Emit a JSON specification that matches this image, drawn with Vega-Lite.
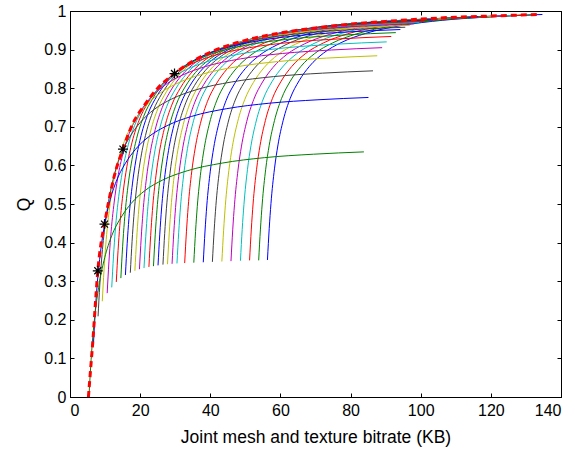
{
"$schema": "https://vega.github.io/schema/vega-lite/v6.json",
"width": 491, "height": 386,
"autosize": {"type": "none"},
"padding": {"left": 70, "top": 11, "right": 14, "bottom": 56},
"config": {
 "view": {"stroke": "black", "strokeWidth": 1},
 "font": "Liberation Sans",
 "axis": {"domainColor": "black", "tickColor": "black", "labelColor": "black", "titleColor": "black", "grid": false, "labelFontSize": 16, "titleFontSize": 17.5, "titleFontWeight": "normal", "tickSize": -4}
},
"datasets": {
"curves": [
{"k":0,"x":56.3,"q":0.355},{"k":0,"x":56.8,"q":0.436},{"k":0,"x":57.3,"q":0.501},{"k":0,"x":58.3,"q":0.591},{"k":0,"x":59.3,"q":0.653},{"k":0,"x":60.8,"q":0.717},{"k":0,"x":62.8,"q":0.774},{"k":0,"x":65.3,"q":0.819},{"k":0,"x":68.3,"q":0.857},{"k":0,"x":72.3,"q":0.891},{"k":0,"x":77.3,"q":0.918},{"k":0,"x":84.3,"q":0.942},{"k":0,"x":94.3,"q":0.962},{"k":0,"x":106.3,"q":0.976},{"k":0,"x":120.3,"q":0.985},{"k":0,"x":134.7,"q":0.991},
{"k":1,"x":53.8,"q":0.354},{"k":1,"x":54.3,"q":0.435},{"k":1,"x":54.8,"q":0.5},{"k":1,"x":55.8,"q":0.59},{"k":1,"x":56.8,"q":0.652},{"k":1,"x":58.3,"q":0.716},{"k":1,"x":60.3,"q":0.773},{"k":1,"x":62.8,"q":0.818},{"k":1,"x":65.8,"q":0.856},{"k":1,"x":69.8,"q":0.89},{"k":1,"x":74.8,"q":0.917},{"k":1,"x":81.8,"q":0.941},{"k":1,"x":91.8,"q":0.961},{"k":1,"x":103.8,"q":0.975},{"k":1,"x":117.8,"q":0.984},{"k":1,"x":132.2,"q":0.99},
{"k":2,"x":51.2,"q":0.354},{"k":2,"x":51.7,"q":0.435},{"k":2,"x":52.2,"q":0.5},{"k":2,"x":53.2,"q":0.59},{"k":2,"x":54.2,"q":0.652},{"k":2,"x":55.7,"q":0.716},{"k":2,"x":57.7,"q":0.773},{"k":2,"x":60.2,"q":0.818},{"k":2,"x":63.2,"q":0.856},{"k":2,"x":67.2,"q":0.89},{"k":2,"x":72.2,"q":0.917},{"k":2,"x":79.2,"q":0.941},{"k":2,"x":89.2,"q":0.961},{"k":2,"x":101.2,"q":0.975},{"k":2,"x":115.2,"q":0.984},{"k":2,"x":129.6,"q":0.99},
{"k":3,"x":48.6,"q":0.353},{"k":3,"x":49.1,"q":0.434},{"k":3,"x":49.6,"q":0.499},{"k":3,"x":50.6,"q":0.589},{"k":3,"x":51.6,"q":0.651},{"k":3,"x":53.1,"q":0.715},{"k":3,"x":55.1,"q":0.772},{"k":3,"x":57.6,"q":0.817},{"k":3,"x":60.6,"q":0.855},{"k":3,"x":64.6,"q":0.889},{"k":3,"x":69.6,"q":0.916},{"k":3,"x":76.6,"q":0.94},{"k":3,"x":86.6,"q":0.96},{"k":3,"x":98.6,"q":0.974},{"k":3,"x":112.6,"q":0.983},{"k":3,"x":127,"q":0.989},
{"k":4,"x":45.9,"q":0.352},{"k":4,"x":46.4,"q":0.433},{"k":4,"x":46.9,"q":0.498},{"k":4,"x":47.9,"q":0.588},{"k":4,"x":48.9,"q":0.65},{"k":4,"x":50.4,"q":0.714},{"k":4,"x":52.4,"q":0.771},{"k":4,"x":54.9,"q":0.816},{"k":4,"x":57.9,"q":0.854},{"k":4,"x":61.9,"q":0.888},{"k":4,"x":66.9,"q":0.915},{"k":4,"x":73.9,"q":0.939},{"k":4,"x":83.9,"q":0.959},{"k":4,"x":95.9,"q":0.973},{"k":4,"x":109.9,"q":0.982},{"k":4,"x":124.3,"q":0.988},
{"k":5,"x":43.3,"q":0.351},{"k":5,"x":43.8,"q":0.432},{"k":5,"x":44.3,"q":0.497},{"k":5,"x":45.3,"q":0.587},{"k":5,"x":46.3,"q":0.649},{"k":5,"x":47.8,"q":0.713},{"k":5,"x":49.8,"q":0.77},{"k":5,"x":52.3,"q":0.815},{"k":5,"x":55.3,"q":0.853},{"k":5,"x":59.3,"q":0.887},{"k":5,"x":64.3,"q":0.914},{"k":5,"x":71.3,"q":0.938},{"k":5,"x":81.3,"q":0.958},{"k":5,"x":93.3,"q":0.972},{"k":5,"x":107.3,"q":0.981},{"k":5,"x":121.7,"q":0.987},
{"k":6,"x":40.6,"q":0.35},{"k":6,"x":41.1,"q":0.431},{"k":6,"x":41.6,"q":0.496},{"k":6,"x":42.6,"q":0.586},{"k":6,"x":43.6,"q":0.648},{"k":6,"x":45.1,"q":0.712},{"k":6,"x":47.1,"q":0.769},{"k":6,"x":49.6,"q":0.814},{"k":6,"x":52.6,"q":0.852},{"k":6,"x":56.6,"q":0.886},{"k":6,"x":61.6,"q":0.913},{"k":6,"x":68.6,"q":0.937},{"k":6,"x":78.6,"q":0.957},{"k":6,"x":90.6,"q":0.971},{"k":6,"x":104.6,"q":0.98},{"k":6,"x":119,"q":0.986},
{"k":7,"x":38,"q":0.349},{"k":7,"x":38.5,"q":0.43},{"k":7,"x":39,"q":0.495},{"k":7,"x":40,"q":0.585},{"k":7,"x":41,"q":0.647},{"k":7,"x":42.5,"q":0.711},{"k":7,"x":44.5,"q":0.768},{"k":7,"x":47,"q":0.813},{"k":7,"x":50,"q":0.851},{"k":7,"x":54,"q":0.885},{"k":7,"x":59,"q":0.912},{"k":7,"x":66,"q":0.936},{"k":7,"x":76,"q":0.956},{"k":7,"x":88,"q":0.97},{"k":7,"x":102,"q":0.979},{"k":7,"x":116.4,"q":0.985},
{"k":8,"x":35.3,"q":0.348},{"k":8,"x":35.8,"q":0.429},{"k":8,"x":36.3,"q":0.494},{"k":8,"x":37.3,"q":0.584},{"k":8,"x":38.3,"q":0.646},{"k":8,"x":39.8,"q":0.71},{"k":8,"x":41.8,"q":0.767},{"k":8,"x":44.3,"q":0.812},{"k":8,"x":47.3,"q":0.85},{"k":8,"x":51.3,"q":0.884},{"k":8,"x":56.3,"q":0.911},{"k":8,"x":63.3,"q":0.935},{"k":8,"x":73.3,"q":0.955},{"k":8,"x":85.3,"q":0.969},{"k":8,"x":99.3,"q":0.978},{"k":8,"x":113.7,"q":0.984},
{"k":9,"x":32.7,"q":0.347},{"k":9,"x":33.2,"q":0.428},{"k":9,"x":33.7,"q":0.493},{"k":9,"x":34.7,"q":0.583},{"k":9,"x":35.7,"q":0.645},{"k":9,"x":37.2,"q":0.709},{"k":9,"x":39.2,"q":0.766},{"k":9,"x":41.7,"q":0.811},{"k":9,"x":44.7,"q":0.849},{"k":9,"x":48.7,"q":0.883},{"k":9,"x":53.7,"q":0.91},{"k":9,"x":60.7,"q":0.934},{"k":9,"x":70.7,"q":0.954},{"k":9,"x":82.7,"q":0.968},{"k":9,"x":96.7,"q":0.977},{"k":9,"x":111.1,"q":0.983},
{"k":10,"x":30.5,"q":0.346},{"k":10,"x":31,"q":0.427},{"k":10,"x":31.5,"q":0.492},{"k":10,"x":32.5,"q":0.582},{"k":10,"x":33.5,"q":0.644},{"k":10,"x":35,"q":0.708},{"k":10,"x":37,"q":0.765},{"k":10,"x":39.5,"q":0.81},{"k":10,"x":42.5,"q":0.848},{"k":10,"x":46.5,"q":0.882},{"k":10,"x":51.5,"q":0.909},{"k":10,"x":58.5,"q":0.933},{"k":10,"x":68.5,"q":0.953},{"k":10,"x":80.5,"q":0.967},{"k":10,"x":94.5,"q":0.976},{"k":10,"x":108.9,"q":0.982},
{"k":11,"x":29.1,"q":0.345},{"k":11,"x":29.6,"q":0.426},{"k":11,"x":30.1,"q":0.491},{"k":11,"x":31.1,"q":0.581},{"k":11,"x":32.1,"q":0.643},{"k":11,"x":33.6,"q":0.707},{"k":11,"x":35.6,"q":0.764},{"k":11,"x":38.1,"q":0.809},{"k":11,"x":41.1,"q":0.847},{"k":11,"x":45.1,"q":0.881},{"k":11,"x":50.1,"q":0.908},{"k":11,"x":57.1,"q":0.932},{"k":11,"x":67.1,"q":0.952},{"k":11,"x":79.1,"q":0.966},{"k":11,"x":93.1,"q":0.975},{"k":11,"x":107.5,"q":0.981},
{"k":12,"x":27.8,"q":0.344},{"k":12,"x":28.3,"q":0.425},{"k":12,"x":28.8,"q":0.49},{"k":12,"x":29.8,"q":0.58},{"k":12,"x":30.8,"q":0.642},{"k":12,"x":32.3,"q":0.706},{"k":12,"x":34.3,"q":0.763},{"k":12,"x":36.8,"q":0.808},{"k":12,"x":39.8,"q":0.846},{"k":12,"x":43.8,"q":0.88},{"k":12,"x":48.8,"q":0.907},{"k":12,"x":55.8,"q":0.931},{"k":12,"x":65.8,"q":0.951},{"k":12,"x":77.8,"q":0.965},{"k":12,"x":91.8,"q":0.974},{"k":12,"x":106.2,"q":0.98},
{"k":13,"x":26.5,"q":0.343},{"k":13,"x":27,"q":0.424},{"k":13,"x":27.5,"q":0.489},{"k":13,"x":28.5,"q":0.579},{"k":13,"x":29.5,"q":0.641},{"k":13,"x":31,"q":0.705},{"k":13,"x":33,"q":0.762},{"k":13,"x":35.5,"q":0.807},{"k":13,"x":38.5,"q":0.845},{"k":13,"x":42.5,"q":0.879},{"k":13,"x":47.5,"q":0.906},{"k":13,"x":54.5,"q":0.93},{"k":13,"x":64.5,"q":0.95},{"k":13,"x":76.5,"q":0.964},{"k":13,"x":90.5,"q":0.973},{"k":13,"x":104.9,"q":0.979},
{"k":14,"x":25.1,"q":0.341},{"k":14,"x":25.6,"q":0.422},{"k":14,"x":26.1,"q":0.487},{"k":14,"x":27.1,"q":0.577},{"k":14,"x":28.1,"q":0.639},{"k":14,"x":29.6,"q":0.703},{"k":14,"x":31.6,"q":0.76},{"k":14,"x":34.1,"q":0.805},{"k":14,"x":37.1,"q":0.843},{"k":14,"x":41.1,"q":0.877},{"k":14,"x":46.1,"q":0.904},{"k":14,"x":53.1,"q":0.928},{"k":14,"x":63.1,"q":0.948},{"k":14,"x":75.1,"q":0.962},{"k":14,"x":89.1,"q":0.971},{"k":14,"x":103.5,"q":0.977},
{"k":15,"x":23.8,"q":0.339},{"k":15,"x":24.3,"q":0.42},{"k":15,"x":24.8,"q":0.485},{"k":15,"x":25.8,"q":0.575},{"k":15,"x":26.8,"q":0.637},{"k":15,"x":28.3,"q":0.701},{"k":15,"x":30.3,"q":0.758},{"k":15,"x":32.8,"q":0.803},{"k":15,"x":35.8,"q":0.841},{"k":15,"x":39.8,"q":0.875},{"k":15,"x":44.8,"q":0.902},{"k":15,"x":51.8,"q":0.926},{"k":15,"x":61.8,"q":0.946},{"k":15,"x":73.8,"q":0.96},{"k":15,"x":87.8,"q":0.969},{"k":15,"x":102.2,"q":0.975},
{"k":16,"x":22.5,"q":0.337},{"k":16,"x":23,"q":0.418},{"k":16,"x":23.5,"q":0.483},{"k":16,"x":24.5,"q":0.573},{"k":16,"x":25.5,"q":0.635},{"k":16,"x":27,"q":0.699},{"k":16,"x":29,"q":0.756},{"k":16,"x":31.5,"q":0.801},{"k":16,"x":34.5,"q":0.839},{"k":16,"x":38.5,"q":0.873},{"k":16,"x":43.5,"q":0.9},{"k":16,"x":50.5,"q":0.924},{"k":16,"x":60.5,"q":0.944},{"k":16,"x":72.5,"q":0.958},{"k":16,"x":86.5,"q":0.967},{"k":16,"x":100.9,"q":0.973},
{"k":17,"x":21.1,"q":0.334},{"k":17,"x":21.6,"q":0.415},{"k":17,"x":22.1,"q":0.48},{"k":17,"x":23.1,"q":0.57},{"k":17,"x":24.1,"q":0.632},{"k":17,"x":25.6,"q":0.696},{"k":17,"x":27.6,"q":0.753},{"k":17,"x":30.1,"q":0.798},{"k":17,"x":33.1,"q":0.836},{"k":17,"x":37.1,"q":0.87},{"k":17,"x":42.1,"q":0.897},{"k":17,"x":49.1,"q":0.921},{"k":17,"x":59.1,"q":0.941},{"k":17,"x":71.1,"q":0.955},{"k":17,"x":85.1,"q":0.964},{"k":17,"x":99.5,"q":0.97},
{"k":18,"x":19.8,"q":0.331},{"k":18,"x":20.3,"q":0.412},{"k":18,"x":20.8,"q":0.477},{"k":18,"x":21.8,"q":0.567},{"k":18,"x":22.8,"q":0.629},{"k":18,"x":24.3,"q":0.693},{"k":18,"x":26.3,"q":0.75},{"k":18,"x":28.8,"q":0.795},{"k":18,"x":31.8,"q":0.833},{"k":18,"x":35.8,"q":0.867},{"k":18,"x":40.8,"q":0.894},{"k":18,"x":47.8,"q":0.918},{"k":18,"x":57.8,"q":0.938},{"k":18,"x":69.8,"q":0.952},{"k":18,"x":83.8,"q":0.961},{"k":18,"x":98.2,"q":0.967},
{"k":19,"x":18.5,"q":0.327},{"k":19,"x":19,"q":0.408},{"k":19,"x":19.5,"q":0.473},{"k":19,"x":20.5,"q":0.563},{"k":19,"x":21.5,"q":0.625},{"k":19,"x":23,"q":0.689},{"k":19,"x":25,"q":0.746},{"k":19,"x":27.5,"q":0.791},{"k":19,"x":30.5,"q":0.829},{"k":19,"x":34.5,"q":0.863},{"k":19,"x":39.5,"q":0.89},{"k":19,"x":46.5,"q":0.914},{"k":19,"x":56.5,"q":0.934},{"k":19,"x":68.5,"q":0.948},{"k":19,"x":82.5,"q":0.957},{"k":19,"x":96.9,"q":0.963},
{"k":20,"x":17.2,"q":0.322},{"k":20,"x":17.7,"q":0.403},{"k":20,"x":18.2,"q":0.468},{"k":20,"x":19.2,"q":0.558},{"k":20,"x":20.2,"q":0.62},{"k":20,"x":21.7,"q":0.684},{"k":20,"x":23.7,"q":0.741},{"k":20,"x":26.2,"q":0.786},{"k":20,"x":29.2,"q":0.824},{"k":20,"x":33.2,"q":0.858},{"k":20,"x":38.2,"q":0.885},{"k":20,"x":45.2,"q":0.909},{"k":20,"x":55.2,"q":0.929},{"k":20,"x":67.2,"q":0.943},{"k":20,"x":81.2,"q":0.952},{"k":20,"x":95.6,"q":0.958},
{"k":21,"x":15.8,"q":0.316},{"k":21,"x":16.3,"q":0.397},{"k":21,"x":16.8,"q":0.462},{"k":21,"x":17.8,"q":0.552},{"k":21,"x":18.8,"q":0.614},{"k":21,"x":20.3,"q":0.678},{"k":21,"x":22.3,"q":0.735},{"k":21,"x":24.8,"q":0.78},{"k":21,"x":27.8,"q":0.818},{"k":21,"x":31.8,"q":0.852},{"k":21,"x":36.8,"q":0.879},{"k":21,"x":43.8,"q":0.903},{"k":21,"x":53.8,"q":0.923},{"k":21,"x":65.8,"q":0.937},{"k":21,"x":79.8,"q":0.946},{"k":21,"x":94.2,"q":0.952},
{"k":22,"x":14.5,"q":0.308},{"k":22,"x":15,"q":0.389},{"k":22,"x":15.5,"q":0.454},{"k":22,"x":16.5,"q":0.544},{"k":22,"x":17.5,"q":0.606},{"k":22,"x":19,"q":0.67},{"k":22,"x":21,"q":0.727},{"k":22,"x":23.5,"q":0.772},{"k":22,"x":26.5,"q":0.81},{"k":22,"x":30.5,"q":0.844},{"k":22,"x":35.5,"q":0.871},{"k":22,"x":42.5,"q":0.895},{"k":22,"x":52.5,"q":0.915},{"k":22,"x":64.5,"q":0.929},{"k":22,"x":78.5,"q":0.938},{"k":22,"x":92.9,"q":0.944},
{"k":23,"x":13.2,"q":0.298},{"k":23,"x":13.7,"q":0.379},{"k":23,"x":14.2,"q":0.444},{"k":23,"x":15.2,"q":0.534},{"k":23,"x":16.2,"q":0.596},{"k":23,"x":17.7,"q":0.66},{"k":23,"x":19.7,"q":0.717},{"k":23,"x":22.2,"q":0.762},{"k":23,"x":25.2,"q":0.8},{"k":23,"x":29.2,"q":0.834},{"k":23,"x":34.2,"q":0.861},{"k":23,"x":41.2,"q":0.885},{"k":23,"x":51.2,"q":0.905},{"k":23,"x":63.2,"q":0.919},{"k":23,"x":77.2,"q":0.928},{"k":23,"x":91.6,"q":0.934},
{"k":24,"x":11.9,"q":0.284},{"k":24,"x":12.4,"q":0.365},{"k":24,"x":12.9,"q":0.43},{"k":24,"x":13.9,"q":0.52},{"k":24,"x":14.9,"q":0.582},{"k":24,"x":16.4,"q":0.646},{"k":24,"x":18.4,"q":0.703},{"k":24,"x":20.9,"q":0.748},{"k":24,"x":23.9,"q":0.786},{"k":24,"x":27.9,"q":0.82},{"k":24,"x":32.9,"q":0.847},{"k":24,"x":39.9,"q":0.871},{"k":24,"x":49.9,"q":0.891},{"k":24,"x":61.9,"q":0.905},{"k":24,"x":75.9,"q":0.914},{"k":24,"x":90.3,"q":0.92},
{"k":25,"x":10.6,"q":0.269},{"k":25,"x":11.1,"q":0.35},{"k":25,"x":11.6,"q":0.415},{"k":25,"x":12.6,"q":0.505},{"k":25,"x":13.6,"q":0.567},{"k":25,"x":15.1,"q":0.631},{"k":25,"x":17.1,"q":0.688},{"k":25,"x":19.6,"q":0.733},{"k":25,"x":22.6,"q":0.771},{"k":25,"x":26.6,"q":0.805},{"k":25,"x":31.6,"q":0.832},{"k":25,"x":38.6,"q":0.856},{"k":25,"x":48.6,"q":0.876},{"k":25,"x":60.6,"q":0.89},{"k":25,"x":74.6,"q":0.899},{"k":25,"x":89,"q":0.905},
{"k":26,"x":9.2,"q":0.248},{"k":26,"x":9.7,"q":0.329},{"k":26,"x":10.2,"q":0.394},{"k":26,"x":11.2,"q":0.484},{"k":26,"x":12.2,"q":0.546},{"k":26,"x":13.7,"q":0.61},{"k":26,"x":15.7,"q":0.667},{"k":26,"x":18.2,"q":0.712},{"k":26,"x":21.2,"q":0.75},{"k":26,"x":25.2,"q":0.784},{"k":26,"x":30.2,"q":0.811},{"k":26,"x":37.2,"q":0.835},{"k":26,"x":47.2,"q":0.855},{"k":26,"x":59.2,"q":0.869},{"k":26,"x":73.2,"q":0.878},{"k":26,"x":87.6,"q":0.884},
{"k":27,"x":8,"q":0.209},{"k":27,"x":8.5,"q":0.29},{"k":27,"x":9,"q":0.355},{"k":27,"x":10,"q":0.445},{"k":27,"x":11,"q":0.507},{"k":27,"x":12.5,"q":0.571},{"k":27,"x":14.5,"q":0.628},{"k":27,"x":17,"q":0.673},{"k":27,"x":20,"q":0.711},{"k":27,"x":24,"q":0.745},{"k":27,"x":29,"q":0.772},{"k":27,"x":36,"q":0.796},{"k":27,"x":46,"q":0.816},{"k":27,"x":58,"q":0.83},{"k":27,"x":72,"q":0.839},{"k":27,"x":86.4,"q":0.845},
{"k":28,"x":6.7,"q":0.14},{"k":28,"x":7.2,"q":0.221},{"k":28,"x":7.7,"q":0.286},{"k":28,"x":8.7,"q":0.376},{"k":28,"x":9.7,"q":0.438},{"k":28,"x":11.2,"q":0.502},{"k":28,"x":13.2,"q":0.559},{"k":28,"x":15.7,"q":0.604},{"k":28,"x":18.7,"q":0.642},{"k":28,"x":22.7,"q":0.676},{"k":28,"x":27.7,"q":0.703},{"k":28,"x":34.7,"q":0.727},{"k":28,"x":44.7,"q":0.747},{"k":28,"x":56.7,"q":0.761},{"k":28,"x":70.7,"q":0.77},{"k":28,"x":85.1,"q":0.776},
{"k":29,"x":5.4,"q":0},{"k":29,"x":5.9,"q":0.08},{"k":29,"x":6.4,"q":0.145},{"k":29,"x":7.4,"q":0.235},{"k":29,"x":8.4,"q":0.297},{"k":29,"x":9.9,"q":0.361},{"k":29,"x":11.9,"q":0.418},{"k":29,"x":14.4,"q":0.463},{"k":29,"x":17.4,"q":0.501},{"k":29,"x":21.4,"q":0.535},{"k":29,"x":26.4,"q":0.562},{"k":29,"x":33.4,"q":0.586},{"k":29,"x":43.4,"q":0.606},{"k":29,"x":55.4,"q":0.62},{"k":29,"x":69.4,"q":0.629},{"k":29,"x":83.8,"q":0.635}
],
"env": [
{"x":5.25,"q":0},{"x":5.9,"q":0.075},{"x":6.6,"q":0.155},{"x":7.3,"q":0.25},{"x":7.93,"q":0.327},{"x":8.8,"q":0.395},{"x":9.84,"q":0.448},{"x":11,"q":0.505},{"x":12.5,"q":0.568},{"x":15.1,"q":0.642},{"x":18,"q":0.71},{"x":21,"q":0.753},{"x":25,"q":0.8},{"x":29.8,"q":0.838},{"x":35,"q":0.87},{"x":40,"q":0.893},{"x":50,"q":0.924},{"x":60,"q":0.943},{"x":70,"q":0.956},{"x":80,"q":0.966},{"x":90,"q":0.973},{"x":100,"q":0.979},{"x":110,"q":0.984},{"x":120,"q":0.987},{"x":133.5,"q":0.991}
],
"stars": [
{"x":7.93,"q":0.327},{"x":9.84,"q":0.448},{"x":15.1,"q":0.642},{"x":29.8,"q":0.838}
]
},
"layer": [
{
 "data": {"name": "curves"},
 "mark": {"type": "line", "strokeWidth": 1, "interpolate": "monotone"},
 "encoding": {
  "x": {"field": "x", "type": "quantitative", "scale": {"domain": [0, 140], "nice": false, "zero": false},
        "axis": {"orient": "bottom", "values": [0,20,40,60,80,100,120,140], "labelPadding": 9, "title": "Joint mesh and texture bitrate (KB)", "titleY": 40, "titleBaseline": "middle"}},
  "y": {"field": "q", "type": "quantitative", "scale": {"domain": [0, 1], "nice": false},
        "axis": {"orient": "left", "values": [0,0.1,0.2,0.3,0.4,0.5,0.6,0.7,0.8,0.9,1], "format": "~g", "labelPadding": 8, "title": "Q", "titleX": -46, "titleY": 193, "titleBaseline": "middle"}},
  "color": {"field": "k", "type": "nominal", "legend": null,
   "scale": {"domain": [0,1,2,3,4,5,6,7,8,9,10,11,12,13,14,15,16,17,18,19,20,21,22,23,24,25,26,27,28,29],
    "range": ["#0000FF","#008000","#FF0000","#00BFBF","#BF00BF","#BFBF00","#404040","#0000FF","#008000","#FF0000","#00BFBF","#BF00BF","#BFBF00","#404040","#0000FF","#008000","#FF0000","#00BFBF","#BF00BF","#BFBF00","#404040","#0000FF","#008000","#FF0000","#00BFBF","#BF00BF","#BFBF00","#404040","#0000FF","#008000"]}}
 }
},
{
 "data": {"name": "env"},
 "mark": {"type": "line", "color": "#FF0000", "strokeWidth": 3, "strokeDash": [6, 4], "interpolate": "monotone"},
 "encoding": {
  "x": {"field": "x", "type": "quantitative", "axis": {"orient": "top", "values": [0,20,40,60,80,100,120,140], "labels": false, "title": null}},
  "y": {"field": "q", "type": "quantitative", "axis": {"orient": "right", "values": [0,0.1,0.2,0.3,0.4,0.5,0.6,0.7,0.8,0.9,1], "labels": false, "title": null}}
 }
},
{
 "data": {"name": "stars"},
 "mark": {"type": "point", "shape": "M-1,0L1,0M0,-1L0,1M-0.7,-0.7L0.7,0.7M-0.7,0.7L0.7,-0.7", "size": 100, "stroke": "black", "strokeWidth": 1.2, "filled": false, "opacity": 1},
 "encoding": {
  "x": {"field": "x", "type": "quantitative", "axis": null},
  "y": {"field": "q", "type": "quantitative", "axis": null}
 }
},
{
 "mark": {"type": "text", "text": "λ = 0.6272", "fontSize": 17, "font": "Liberation Sans", "color": "black", "align": "center", "baseline": "middle"},
 "encoding": {
  "x": {"datum": 113.3, "type": "quantitative", "axis": null},
  "y": {"datum": 0.111, "type": "quantitative", "axis": null}
 }
}
],
"resolve": {"axis": {"x": "independent", "y": "independent"}}
}
